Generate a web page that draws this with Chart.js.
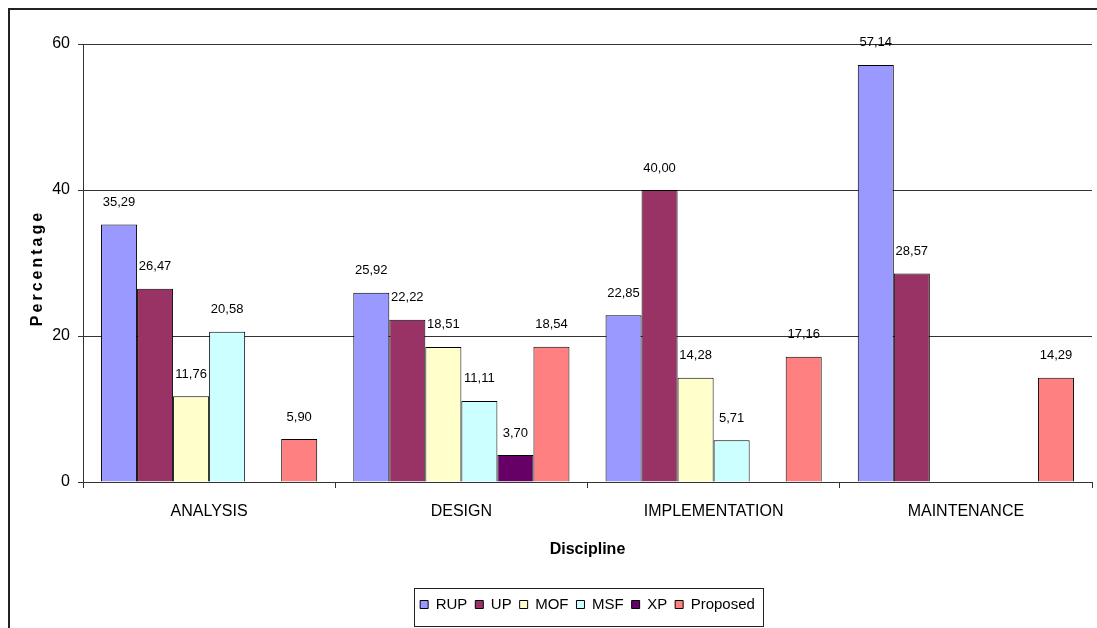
<!DOCTYPE html>
<html>
<head>
<meta charset="utf-8">
<script src="https://cdn.jsdelivr.net/npm/chart.js@4/dist/chart.umd.min.js"></script>
<style>
  html, body { margin: 0; padding: 0; background: #fff; }
  #wrap { width: 1097px; height: 628px; position: relative; }
</style>
</head>
<body>
<div id="wrap"><canvas id="chart"></canvas></div>
<script>
// DATA
const disciplines = ['ANALYSIS', 'DESIGN', 'IMPLEMENTATION', 'MAINTENANCE'];
const rup = [35.29, 25.92, 22.85, 57.14];
const up = [26.47, 22.22, 40.00, 28.57];
const mof = [11.76, 18.51, 14.28, null];
const msf = [20.58, 11.11, 5.71, null];
const xp = [null, 3.70, null, null];
const proposed = [5.90, 18.54, 17.16, 14.29];
const yTicks = [0, 20, 40, 60];

const SANS = "'Liberation Sans', Arial, sans-serif";

// FRAME + Y TITLE + LEGEND BOX + VALUE LABELS
const decorPlugin = {
    id: 'decor',
    beforeDraw(chart) {
        const ctx = chart.ctx;
        ctx.save();
        ctx.fillStyle = '#fff';
        ctx.fillRect(0, 0, chart.width, chart.height);
        ctx.strokeStyle = '#222';
        ctx.lineWidth = 2;
        ctx.beginPath();
        ctx.moveTo(9, chart.height);
        ctx.lineTo(9, 9);
        ctx.lineTo(chart.width, 9);
        ctx.stroke();
        ctx.restore();
    },
    afterDraw(chart) {
        const ctx = chart.ctx;
        const area = chart.chartArea;
        ctx.save();
        ctx.translate(41.5, (area.top + area.bottom) / 2 + 5);
        ctx.rotate(-Math.PI / 2);
        ctx.font = "bold 16px " + SANS;
        ctx.letterSpacing = '3px';
        ctx.fillStyle = '#000';
        ctx.textAlign = 'center';
        ctx.textBaseline = 'alphabetic';
        ctx.fillText('Percentage', 0, 0);
        ctx.restore();

        // legend border
        const lg = chart.legend;
        const boxes = lg.legendHitBoxes;
        if (boxes && boxes.length) {
            const first = boxes[0];
            const last = boxes[boxes.length - 1];
            const x0 = first.left - 6;
            const x1 = last.left + last.width + 8;
            const y0 = lg.top - 1;
            const y1 = lg.top + 37;
            ctx.save();
            ctx.strokeStyle = '#222';
            ctx.lineWidth = 1;
            ctx.strokeRect(Math.round(x0) + 0.5, Math.round(y0) + 0.5, Math.round(x1 - x0), Math.round(y1 - y0));
            ctx.restore();
        }
    },
    afterDatasetsDraw(chart) {
        const ctx = chart.ctx;
        ctx.save();
        ctx.font = "13px " + SANS;
        ctx.fillStyle = '#000';
        ctx.textAlign = 'center';
        ctx.textBaseline = 'middle';
        chart.data.datasets.forEach((ds, i) => {
            const meta = chart.getDatasetMeta(i);
            meta.data.forEach((bar, j) => {
                const v = ds.data[j];
                if (v === null || v === undefined) return;
                ctx.fillText(v.toFixed(2).replace('.', ','), bar.x, bar.y - 22);
            });
        });
        ctx.restore();
    }
};

function series(label, data, color) {
    return {
        label: label,
        data: data,
        backgroundColor: color,
        borderColor: '#000',
        borderWidth: 1,
        barPercentage: 1,
        categoryPercentage: 0.857
    };
}

new Chart(document.getElementById('chart'), {
    type: 'bar',
    data: {
        labels: disciplines,
        datasets: [
            series('RUP', rup, '#9999ff'),
            series('UP', up, '#993366'),
            series('MOF', mof, '#ffffcc'),
            series('MSF', msf, '#ccffff'),
            series('XP', xp, '#660066'),
            series('Proposed', proposed, '#ff8080')
        ]
    },
    options: {
        responsive: true,
        maintainAspectRatio: false,
        animation: false,
        layout: { padding: { left: 0, right: 5, top: 44, bottom: 6 } },
        plugins: {
            legend: {
                position: 'bottom',
                fullSize: false,
                labels: {
                    boxWidth: 8,
                    boxHeight: 8,
                    padding: 8,
                    color: '#000',
                    font: { family: SANS, size: 15 }
                }
            },
            tooltip: { enabled: false }
        },
        scales: {
            x: {
                grid: {
                    offset: true,
                    drawOnChartArea: false,
                    drawTicks: true,
                    tickLength: 6,
                    color: '#333'
                },
                border: { display: true, color: '#333', width: 1 },
                ticks: {
                    color: '#000',
                    padding: 14,
                    font: { family: SANS, size: 16 }
                },
                title: {
                    display: true,
                    text: 'Discipline',
                    color: '#000',
                    font: { family: SANS, size: 16, weight: 'bold' },
                    padding: { top: 0, bottom: 30 }
                },
                afterFit(scale) { scale.height = 107; }
            },
            y: {
                min: 0,
                max: 60,
                afterBuildTicks(scale) { scale.ticks = yTicks.map(v => ({ value: v })); },
                grid: { color: '#333', tickLength: 5, lineWidth: 1 },
                border: { display: true, color: '#333', width: 1 },
                ticks: {
                    color: '#000',
                    padding: 8,
                    font: { family: SANS, size: 16 }
                },
                afterFit(scale) { scale.width = 83; }
            }
        }
    },
    plugins: [decorPlugin]
});
</script>
</body>
</html>
